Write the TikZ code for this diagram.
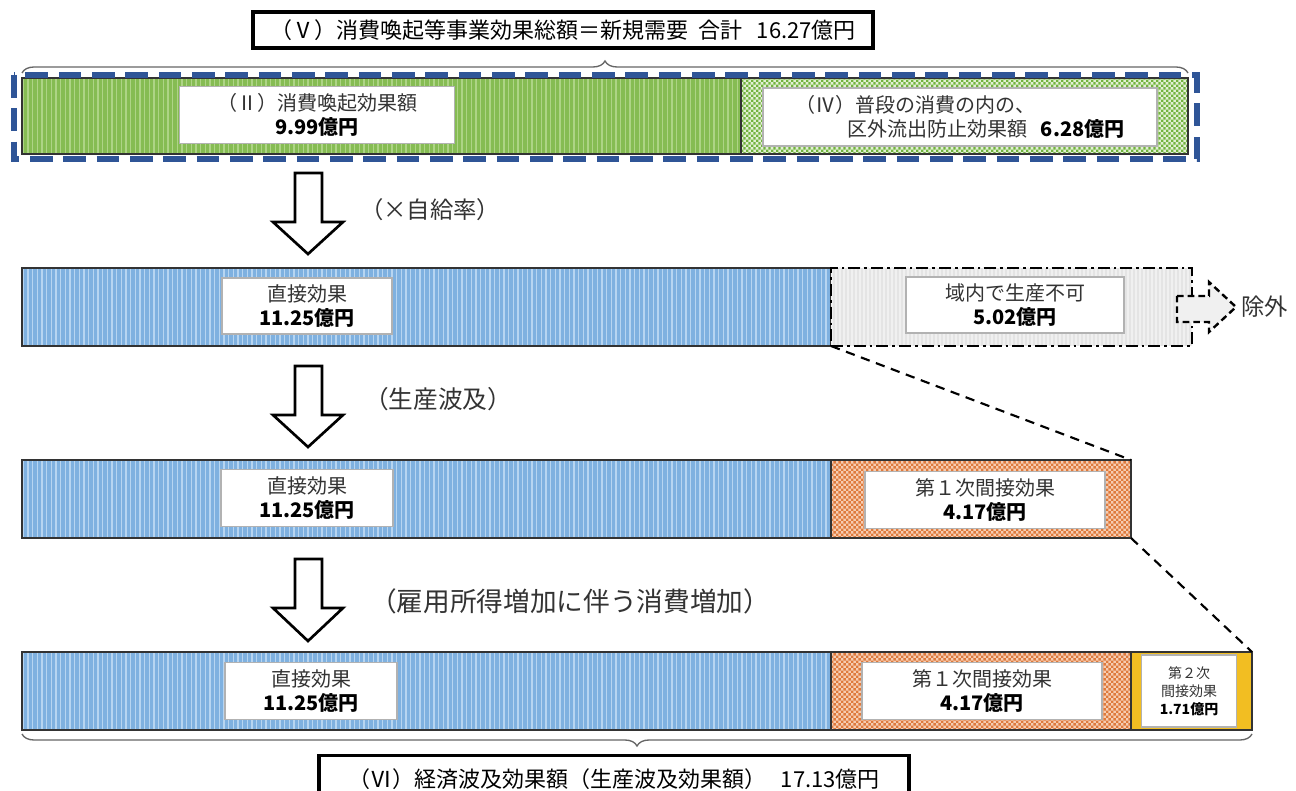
\documentclass[tikz,border=0pt]{standalone}
\usepackage{fontspec}
\setmainfont{Noto Sans CJK JP}
\usetikzlibrary{patterns,patterns.meta,decorations.pathreplacing}
\definecolor{txt}{HTML}{333333}
\definecolor{barline}{HTML}{333333}
\definecolor{blueA}{HTML}{7FB1E0}
\definecolor{blueS}{HTML}{B7D5F1}
\definecolor{greenA}{HTML}{86BC53}
\definecolor{greenS}{HTML}{AED486}
\definecolor{greenB}{HTML}{E2F0D4}
\definecolor{greenC}{HTML}{72B33E}
\definecolor{orangeB}{HTML}{F6CDB2}
\definecolor{orangeC}{HTML}{DE7A3C}
\definecolor{yellowA}{HTML}{F2BE22}
\definecolor{grayA}{HTML}{E4E4E4}
\definecolor{grayS}{HTML}{F0F0F0}
\definecolor{dashblue}{HTML}{2F5597}
\tikzdeclarepattern{
  name=finechecker, type=uncolored,
  bounding box={(0,0) and (4pt,4pt)}, tile size={(4pt,4pt)},
  code={\fill (0,0) rectangle (2pt,2pt); \fill (2pt,2pt) rectangle (4pt,4pt);}}
\begin{document}
\begin{tikzpicture}[x=0.75pt,y=-0.75pt,
  bar/.style={draw=barline, line width=1.5pt, anchor=north west, inner sep=0pt, outer sep=0pt, minimum height=78*0.75pt},
  bluebar/.style={bar, preaction={fill=blueA}, preaction={pattern={Lines[angle=90,distance=3.5pt,line width=1.1pt]}, pattern color=blueS}},
  greenbar/.style={bar, preaction={fill=greenA}, preaction={pattern={Lines[angle=90,distance=3.5pt,line width=1.1pt]}, pattern color=greenS}},
  greenchk/.style={bar, preaction={fill=greenB}, preaction={pattern=finechecker, pattern color=greenC}},
  orangechk/.style={bar, preaction={fill=orangeB}, preaction={pattern=finechecker, pattern color=orangeC}},
  yellowbar/.style={bar, fill=yellowA},
  graybar/.style={bar, draw=black, line width=1.8pt, dash pattern=on 9pt off 3pt on 2pt off 3pt, preaction={fill=grayA}, preaction={pattern={Lines[angle=90,distance=3pt,line width=0.8pt]}, pattern color=grayS}},
  lbl/.style={fill=white, draw=black!30, line width=0.9pt, align=center, inner sep=2pt, text=txt, font={\fontsize{15}{18}\selectfont}},
  titlebox/.style={draw=black, line width=2.4pt, fill=white, inner sep=0pt, text=black, font={\fontsize{16.5}{20}\selectfont}},
  steplbl/.style={anchor=west, text=txt, inner sep=0pt},
  blockarrow/.style={draw=black, line width=2pt, fill=white, line join=miter},
  bracestyle/.style={draw=black!60, line width=1pt, decorate, decoration={brace, amplitude=9pt}},
  zoomline/.style={draw=black, line width=1.6pt, dash pattern=on 7pt off 5pt}
]
\clip (0,0) rectangle (1296,791);
\fill[white] (0,0) rectangle (1296,791);

% ---------- title ----------
\node[titlebox, minimum width=620*0.75pt, minimum height=36*0.75pt] (title) at (563,30)
  {（Ⅴ）消費喚起等事業効果総額＝新規需要\ \ 合計\ \ \ 16.27億円};
\draw[bracestyle] (22,73) -- (1188,73);

% ---------- row 1 ----------
\node[greenbar, minimum width=719*0.75pt, minimum height=76*0.75pt] (r1a) at (22,78) {};
\node[greenchk, minimum width=447*0.75pt, minimum height=76*0.75pt] (r1b) at (741,78) {};
\draw[dashblue, line width=4pt, dash pattern=on 17pt off 8pt] (14,75) rectangle (1197,159);
\node[lbl, minimum width=275*0.75pt, minimum height=57*0.75pt] (l1a) at (317,115)
  {（Ⅱ）消費喚起効果額\\{\bfseries\color{black}9.99億円}};
\node[lbl, minimum width=394*0.75pt, minimum height=58*0.75pt, align=left] (l1b) at (960,117)
  {（Ⅳ）普段の消費の内の、\\\hspace*{2.6em}区外流出防止効果額\ \ \ {\bfseries\color{black}6.28億円}};

% arrow 1
\draw[blockarrow] (295,173) -- (322,173) -- (322,222) -- (343,222) -- (308,254) -- (273,222) -- (295,222) -- cycle;
\node[steplbl, font={\fontsize{17.5}{21}\selectfont}] (s1) at (360,210) {（×自給率）};

% ---------- row 2 ----------
\node[bluebar, minimum width=809*0.75pt] (r2a) at (22,268) {};
\node[graybar, minimum width=361*0.75pt] (r2b) at (831,268) {};
\node[lbl, minimum width=170*0.75pt, minimum height=56*0.75pt] (l2a) at (307,306)
  {直接効果\\{\bfseries\color{black}11.25億円}};
\node[lbl, minimum width=218*0.75pt, minimum height=56*0.75pt] (l2b) at (1015,305)
  {域内で生産不可\\{\bfseries\color{black}5.02億円}};
\draw[draw=black, line width=1.8pt, fill=grayS, dash pattern=on 5pt off 3pt]
  (1177,296) -- (1209,296) -- (1209,282) -- (1236,307) -- (1209,332) -- (1209,322) -- (1177,322) -- cycle;
\node[steplbl, font={\fontsize{17.5}{20}\selectfont}] (excl) at (1241,307) {除外};

% arrow 2
\draw[blockarrow] (295,366) -- (322,366) -- (322,415) -- (343,415) -- (308,447) -- (273,415) -- (295,415) -- cycle;
\node[steplbl, font={\fontsize{18.5}{22}\selectfont}] (s2) at (364,399) {（生産波及）};

% ---------- row 3 ----------
\node[bluebar, minimum width=809*0.75pt] (r3a) at (22,460) {};
\node[orangechk, minimum width=300*0.75pt] (r3b) at (831,460) {};
\node[lbl, minimum width=172*0.75pt, minimum height=57*0.75pt] (l3a) at (307,498)
  {直接効果\\{\bfseries\color{black}11.25億円}};
\node[lbl, minimum width=240*0.75pt, minimum height=57*0.75pt] (l3b) at (985,500)
  {第１次間接効果\\{\bfseries\color{black}4.17億円}};

% arrow 3
\draw[blockarrow] (295,559) -- (322,559) -- (322,608) -- (343,608) -- (308,641) -- (273,608) -- (295,608) -- cycle;
\node[steplbl, font={\fontsize{20}{24}\selectfont}] (s3) at (370,601) {（雇用所得増加に伴う消費増加）};

% ---------- row 4 ----------
\node[bluebar, minimum width=809*0.75pt] (r4a) at (22,652) {};
\node[orangechk, minimum width=300*0.75pt] (r4b) at (831,652) {};
\node[yellowbar, minimum width=121*0.75pt] (r4c) at (1131,652) {};
\node[lbl, minimum width=172*0.75pt, minimum height=57*0.75pt] (l4a) at (311,691)
  {直接効果\\{\bfseries\color{black}11.25億円}};
\node[lbl, minimum width=240*0.75pt, minimum height=57*0.75pt] (l4b) at (982,691)
  {第１次間接効果\\{\bfseries\color{black}4.17億円}};
\node[lbl, minimum width=95*0.75pt, minimum height=72*0.75pt, font={\fontsize{10.5}{13.5}\selectfont}] (l4c) at (1189,691)
  {第２次\\間接効果\\{\bfseries\color{black}1.71億円}};

% zoom lines
\draw[zoomline] (r2b.south west) -- (r3b.north east);
\draw[zoomline] (r3b.south east) -- (r4c.north east);

% bottom brace + box
\draw[bracestyle] (1252,734) -- (22,734);
\node[titlebox, minimum width=590*0.75pt, minimum height=48*0.75pt, anchor=north] (total) at (614,754)
  {（Ⅵ）経済波及効果額（生産波及効果額）\ \ \ 17.13億円};
\end{tikzpicture}
\end{document}
